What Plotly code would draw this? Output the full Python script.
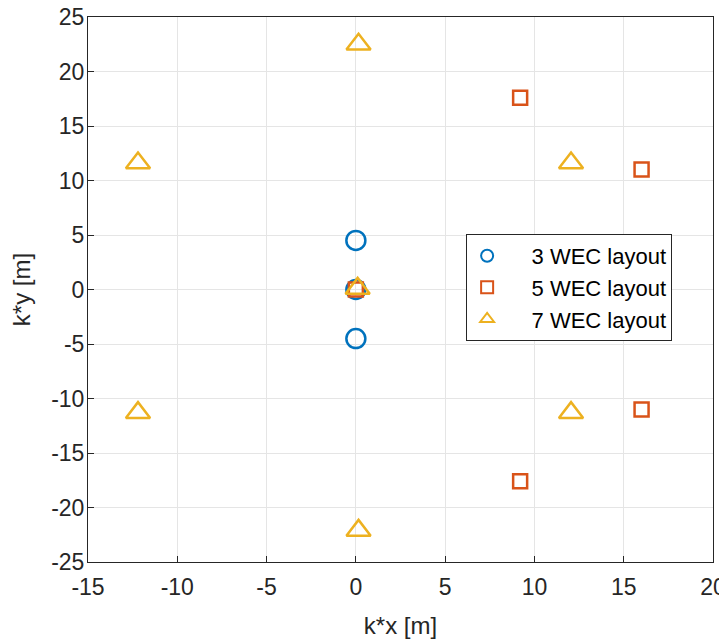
import plotly.graph_objects as go

x3 = [0, 0, 0]
y3 = [4.5, 0, -4.5]
x5 = [0, 9.2, 16.0, 16.0, 9.2]
y5 = [0, 17.6, 11.0, -11.0, -17.6]
x7 = [0.1, 0.15, 12.05, 12.05, 0.15, -12.2, -12.2]
y7 = [0.1, 22.5, 11.6, -11.3, -22.1, -11.3, 11.6]
xticks = [-15, -10, -5, 0, 5, 10, 15, 20]
yticks = [-25, -20, -15, -10, -5, 0, 5, 10, 15, 20, 25]
names = ["3 WEC layout", "5 WEC layout", "7 WEC layout"]
colors = ["#0072BD", "#D95319", "#EDB120"]

FONT = "Liberation Sans, Arial, Helvetica"
PAD = "\u00a0" * 4

fig = go.Figure()
fig.add_trace(go.Scatter(x=x3, y=y3, mode="markers", name=PAD + names[0],
    marker=dict(symbol="circle-open", size=19, color=colors[0], line=dict(width=2.5, color=colors[0]))))
fig.add_trace(go.Scatter(x=x5, y=y5, mode="markers", name=PAD + names[1],
    marker=dict(symbol="square-open", size=14, color=colors[1], line=dict(width=2.5, color=colors[1]))))
fig.add_trace(go.Scatter(x=x7, y=y7, mode="markers", name=PAD + names[2],
    marker=dict(symbol="triangle-up-open", size=21, color=colors[2], line=dict(width=2.5, color=colors[2]))))

axis_common = dict(showgrid=True, gridcolor="#e5e5e5", gridwidth=1, zeroline=False,
                   showline=True, linecolor="#262626", linewidth=1, mirror=True,
                   ticks="inside", ticklen=6, tickcolor="#262626", automargin=False,
                   ticklabeloverflow="allow",
                   tickfont=dict(family=FONT, size=23, color="#262626"))

fig.update_xaxes(range=[-15, 20], tickvals=xticks, ticktext=[str(v) for v in xticks],
                 ticklabelstandoff=4,
                 title=dict(text="k*x [m]", font=dict(family=FONT, size=24, color="#262626"), standoff=18),
                 **axis_common)
fig.update_yaxes(range=[-25, 25], tickvals=yticks, ticktext=[str(v) for v in yticks],
                 ticklabelstandoff=-2,
                 title=dict(text="k*y [m]", font=dict(family=FONT, size=24, color="#262626"), standoff=16),
                 **axis_common)

fig.update_layout(width=719, height=633, plot_bgcolor="white", paper_bgcolor="white",
                  margin=dict(l=80, r=14, t=9, b=79),
                  showlegend=True,
                  legend=dict(x=0.605, y=0.602, xanchor="left", yanchor="top",
                              bgcolor="white", bordercolor="#262626", borderwidth=1,
                              font=dict(family=FONT, size=22, color="black"),
                              itemsizing="constant", tracegroupgap=0))

fig.write_html("out.html")
